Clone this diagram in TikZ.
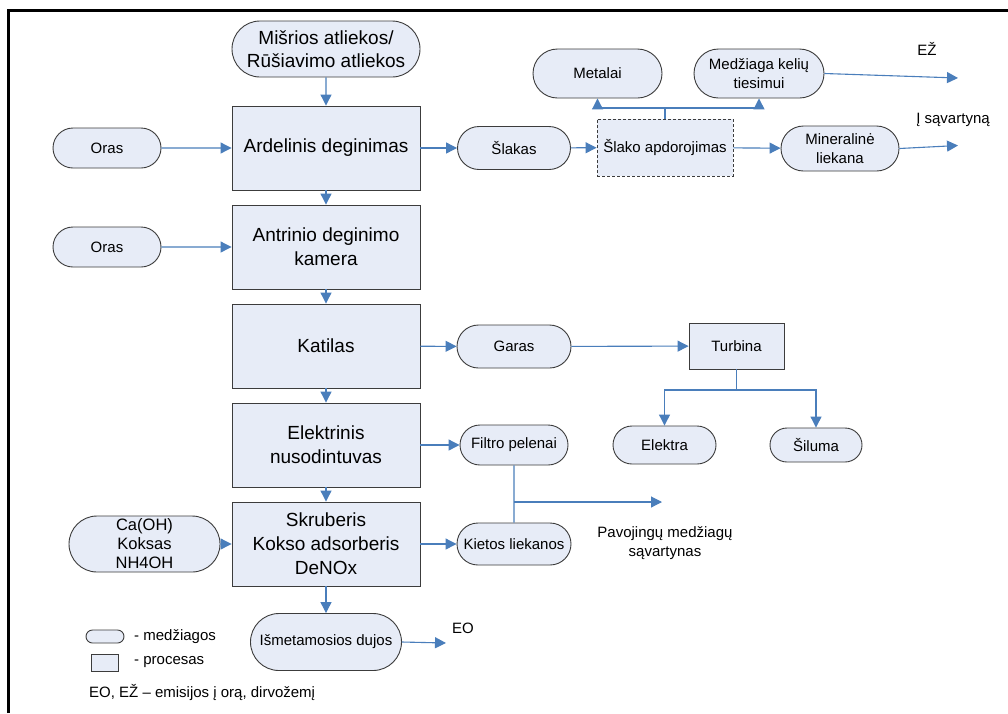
\documentclass[tikz,border=0pt]{standalone}
\usepackage{fontspec}
\setmainfont{Liberation Sans}
\usetikzlibrary{arrows.meta,shapes.misc}
\definecolor{fillc}{RGB}{231,236,247}
\definecolor{linec}{RGB}{74,126,187}
\definecolor{bord}{RGB}{60,60,60}
\begin{document}
\begin{tikzpicture}[x=1pt,y=-1pt,
 proc/.style={draw=bord, fill=fillc, line width=0.9pt, minimum width=188pt, minimum height=84pt, inner sep=0pt, align=center, font=\fontsize{19}{24}\selectfont},
 smallproc/.style={draw=bord, fill=fillc, line width=0.9pt, inner sep=0pt, align=center, font=\fontsize{15}{19}\selectfont},
 mat/.style={draw=bord, fill=fillc, line width=0.9pt, rounded rectangle, inner sep=0pt, align=center, font=\fontsize{15}{19}\selectfont},
 conn/.style={draw=linec, line width=1.1pt, arrows={-Triangle[length=11pt,width=11pt,fill=linec]}, shorten >=0pt},
 plain/.style={draw=linec, line width=1.1pt},
 lbl/.style={font=\fontsize{15}{19}\selectfont, inner sep=0pt, align=center}
]
\useasboundingbox (0,0) rectangle (1008,713);
\fill[white] (0,0) rectangle (1008,713);
\draw[line width=3pt] (8,713) -- (8,10) -- (1008,10);

% main column
\node[mat, minimum width=188pt, minimum height=56pt, font=\fontsize{19}{23}\selectfont] (src) at (326,49) {Mišrios atliekos/\\Rūšiavimo atliekos};
\node[proc] (ard) at (326,148) {Ardelinis deginimas};
\node[proc] (ant) at (326,247) {Antrinio deginimo\\kamera};
\node[proc] (kat) at (326,346) {Katilas};
\node[proc] (ele) at (326,445) {Elektrinis\\nusodintuvas};
\node[proc] (skr) at (326,544) {Skruberis\\Kokso adsorberis\\DeNOx};
\node[mat, minimum width=151pt, minimum height=57pt] (ism) at (326,642) {Išmetamosios dujos};

% left inputs
\node[mat, minimum width=108pt, minimum height=40pt] (oras1) at (107,148) {Oras};
\node[mat, minimum width=108pt, minimum height=40pt] (oras2) at (107,247) {Oras};
\node[mat, minimum width=151pt, minimum height=56pt, font=\fontsize{16.5}{19}\selectfont] (ca) at (144.5,544) {Ca(OH)\\Koksas\\NH4OH};

% right side
\node[mat, minimum width=113pt, minimum height=43pt] (slak) at (514,148) {Šlakas};
\node[smallproc, draw=bord, line width=0.9pt, dash pattern=on 3pt off 2pt, minimum width=136pt, minimum height=57pt] (slap) at (665,147.5) {Šlako apdorojimas};
\node[mat, minimum width=129pt, minimum height=49pt] (met) at (597.5,73.5) {Metalai};
\node[mat, minimum width=130pt, minimum height=49pt] (med) at (759,73.5) {Medžiaga kelių\\tiesimui};
\node[mat, minimum width=118pt, minimum height=45pt] (min) at (840,148.5) {Mineralinė\\liekana};

\node[mat, minimum width=114pt, minimum height=43pt] (gar) at (514,346.5) {Garas};
\node[smallproc, minimum width=95pt, minimum height=46pt] (tur) at (736.5,346) {Turbina};
\node[mat, minimum width=103pt, minimum height=38pt] (elk) at (664.5,445) {Elektra};
\node[mat, minimum width=92pt, minimum height=34pt] (sil) at (816,445) {Šiluma};
\node[mat, minimum width=108pt, minimum height=40pt] (fil) at (514,445) {Filtro pelenai};
\node[mat, minimum width=114pt, minimum height=42pt] (kie) at (514,544) {Kietos liekanos};

% labels
\node[lbl] (ez) at (927,49) {EŽ};
\node[lbl] (isav) at (953,120) {Į sąvartyną};
\node[lbl] (pav) at (665,543) {Pavojingų medžiagų\\sąvartynas};
\node[lbl] (eo) at (463,628) {EO};

% coordinates
\coordinate (j1) at (665,108);
\coordinate (ezend) at (958,78);
\coordinate (isend) at (958,145.5);
\coordinate (j2) at (736.5,390);
\coordinate (j3) at (514,502);
\coordinate (pavend) at (662,502);
\coordinate (eoend) at (446,643);

% connectors main column
\draw[conn] (src) -- (ard);
\draw[conn] (ard) -- (ant);
\draw[conn] (ant) -- (kat);
\draw[conn] (kat) -- (ele);
\draw[conn] (ele) -- (skr);
\draw[conn] (skr) -- (ism);
\draw[conn] (oras1) -- (ard);
\draw[conn] (oras2) -- (ant);
\draw[conn] (ca) -- (skr);
\draw[conn] (ism.east) -- (eoend);

% slag branch
\draw[conn] (ard) -- (slak);
\draw[conn] (slak) -- (slap);
\draw[conn] (slap) -- (min);
\draw[plain] (slap.north) -- (j1);
\draw[conn] (j1) -| (met);
\draw[conn] (j1) -| (med);
\draw[conn] (med.east) -- (ezend);
\draw[conn] (min.east) -- (isend);

% steam branch
\draw[conn] (kat) -- (gar);
\draw[conn] (gar) -- (tur);
\draw[plain] (tur) -- (j2);
\draw[conn] (j2) -| (elk);
\draw[conn] (j2) -| (sil);

% residues
\draw[conn] (ele) -- (fil);
\draw[conn] (skr) -- (kie);
\draw[plain] (fil) -- (kie);
\draw[conn] (j3) -- (pavend);

% legend
\node[mat, minimum width=38pt, minimum height=13pt] (lgm) at (105,636.5) {};
\node[smallproc, minimum width=27pt, minimum height=17pt] (lgp) at (104.5,662.5) {};
\node[lbl, anchor=west] (lgmt) at (134,637) {- medžiagos};
\node[lbl, anchor=west] (lgpt) at (134,662) {- procesas};
\node[lbl, anchor=west] (lge) at (89,692) {EO, EŽ – emisijos į orą, dirvožemį};
\end{tikzpicture}
\end{document}
